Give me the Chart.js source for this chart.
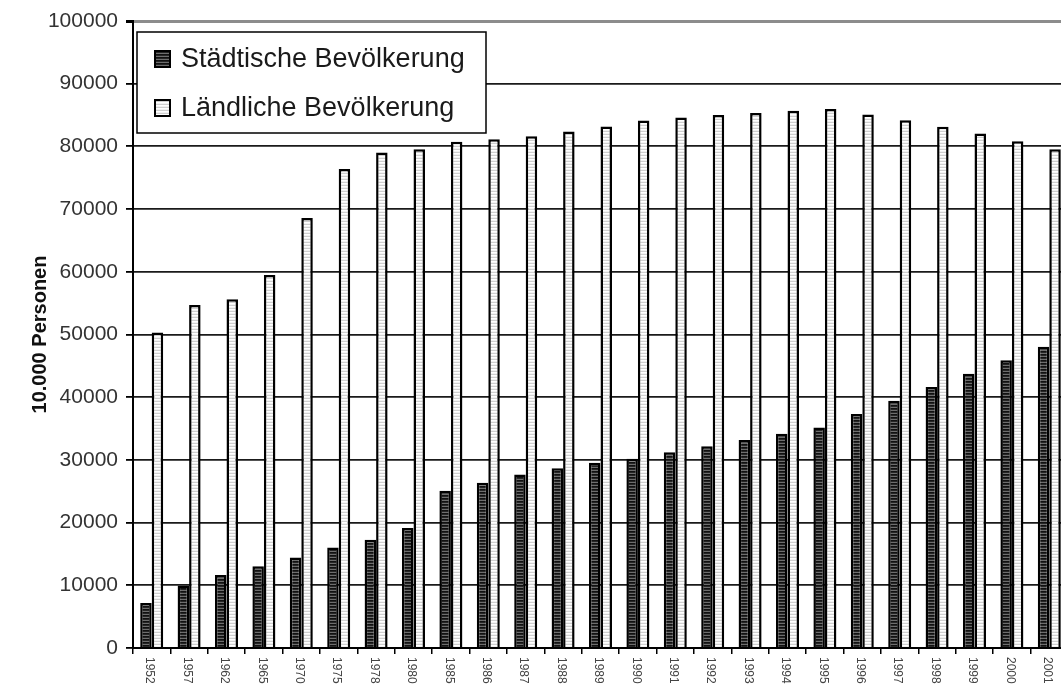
<!DOCTYPE html>
<html>
<head>
<meta charset="utf-8">
<title>Bevölkerung</title>
<script src="https://cdn.jsdelivr.net/npm/chart.js@4/dist/chart.umd.min.js"></script>
<style>
html, body { margin: 0; padding: 0; background: #fff; overflow: hidden; }
#box { width: 1070px; height: 694px; }
</style>
</head>
<body>
<div id="box"><canvas id="chart" width="1070" height="694"></canvas></div>
<script>
var years = ["1952", "1957", "1962", "1965", "1970", "1975", "1978", "1980", "1985", "1986", "1987", "1988", "1989",
	"1990", "1991", "1992", "1993", "1994", "1995", "1996", "1997", "1998", "1999", "2000", "2001"]

var urban = [7163, 9949, 11659, 13045, 14424, 16030, 17245, 19140, 25094, 26366, 27674, 28661, 29540,
	30195, 31203, 32175, 33173, 34169, 35174, 37304, 39449, 41608, 43748, 45906, 48064]

var rural = [50319, 54704, 55636, 59493, 68568, 76390, 79014, 79565, 80757, 81141, 81626, 82365, 83164,
	84138, 84620, 84996, 85344, 85681, 85947, 85085, 84177, 83153, 82038, 80837, 79563]

var yMax  = 100000
var yStep = 10000

var urbanLabel = "Städtische Bevölkerung"
var ruralLabel = "Ländliche Bevölkerung"
var yTitle     = "10.000 Personen"

var FONT = "'Liberation Sans', Arial, sans-serif"
Chart.defaults.font.family = FONT

// horizontal stripe fill, like the old excel pattern
function stripes(rows) {
	var c = document.createElement("canvas")
	c.width = 4
	c.height = rows.length
	var g = c.getContext("2d")
	rows.forEach(function(col, i) {
		g.fillStyle = col
		g.fillRect(0, i, 4, 1)
	})
	return g.createPattern(c, "repeat")
}

var urbanFill = stripes(["#111111", "#262626", "#6e6e6e"])
var ruralFill = stripes(["#ffffff", "#f2f2f2", "#cfcfcf"])

//////////////////////////////////////////////////////////////////////////////////////////////////

var boxLegend = {
	id: "boxLegend",
	afterDatasetsDraw: function(chart) {
		var ctx = chart.ctx
		var a = chart.chartArea
		var x = a.left + 4, y = a.top + 11, w = 349, h = 101

		ctx.save()
		ctx.fillStyle = "#fff"
		ctx.fillRect(x, y, w, h)
		ctx.strokeStyle = "#000"
		ctx.lineWidth = 1.5
		ctx.strokeRect(x, y, w, h)

		ctx.font = "27px " + FONT
		ctx.textBaseline = "middle"
		chart.data.datasets.forEach(function(ds, i) {
			var cy = y + 27 + i * 49
			ctx.fillStyle = ds.backgroundColor
			ctx.fillRect(x + 18, cy - 8, 15, 16)
			ctx.lineWidth = 2
			ctx.strokeRect(x + 18, cy - 8, 15, 16)
			ctx.fillStyle = "#1a1a1a"
			ctx.fillText(ds.label, x + 44, cy + 1)
		})
		ctx.restore()
	}
}

// year labels read top-to-bottom, chart.js only rotates the other way
var xLabels = {
	id: "xLabels",
	afterDraw: function(chart) {
		var ctx = chart.ctx
		var sc = chart.scales.x
		ctx.save()
		ctx.font = "12px " + FONT
		ctx.fillStyle = "#444"
		ctx.textAlign = "left"
		ctx.textBaseline = "middle"
		sc.ticks.forEach(function(t, i) {
			ctx.save()
			ctx.translate(sc.getPixelForTick(i) - 2, sc.bottom - 37)
			ctx.rotate(Math.PI / 2)
			ctx.fillText(sc.getLabelForValue(t.value), 0, 0)
			ctx.restore()
		})
		ctx.restore()
	}
}

//////////////////////////////////////////////////////////////////////////////////////////////////

new Chart(document.getElementById("chart"), {
	type: "bar",
	data: {
		labels: years,
		datasets: [
			{ label: urbanLabel, data: urban, backgroundColor: urbanFill, borderColor: "#000", borderWidth: 2.5 },
			{ label: ruralLabel, data: rural, backgroundColor: ruralFill, borderColor: "#000", borderWidth: 2.5 }
		]
	},
	options: {
		responsive: false,
		animation: false,
		datasets: { bar: { categoryPercentage: 0.615, barPercentage: 1 } },
		layout: { padding: { top: 21, right: 2, left: 0, bottom: 0 } },
		plugins: {
			legend: { display: false },
			tooltip: { enabled: false }
		},
		scales: {
			x: {
				grid: { offset: true, drawOnChartArea: false, tickLength: 6, color: "#000", lineWidth: 1.5 },
				border: { color: "#000", width: 2 },
				ticks: { display: false },
				afterFit: function(s) { s.height = 46 }
			},
			y: {
				min: 0,
				max: yMax,
				ticks: {
					stepSize: yStep,
					color: "#333",
					font: { size: 21 },
					padding: 8,
					callback: function(v) { return String(v) }
				},
				grid: {
					color: function(c) { return c.tick && c.tick.value === yMax ? "#8c8c8c" : "#1a1a1a" },
					lineWidth: function(c) { return c.tick && c.tick.value === yMax ? 3 : 1.8 },
					tickColor: "#000",
					tickLength: 7
				},
				border: { color: "#000", width: 2 },
				title: {
					display: true,
					text: yTitle,
					color: "#111",
					font: { size: 20, weight: "bold" },
					padding: { top: 28, bottom: 0 }
				},
				afterFit: function(s) { s.width = 133 }
			}
		}
	},
	plugins: [boxLegend, xLabels]
})
</script>
</body>
</html>
